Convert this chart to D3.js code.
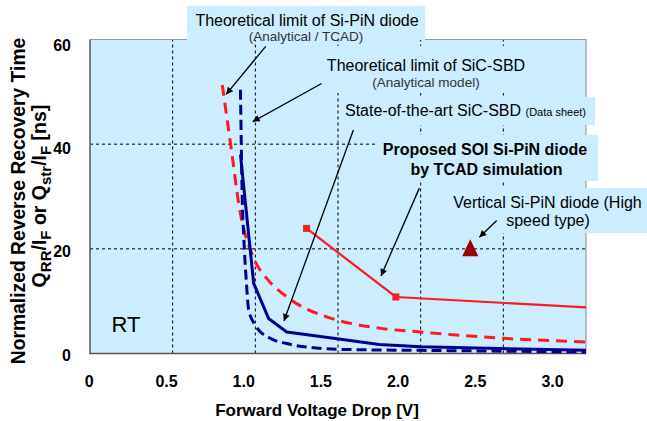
<!DOCTYPE html>
<html>
<head>
<meta charset="utf-8">
<script src="https://cdn.jsdelivr.net/npm/d3@7"></script>
<style>
  body { margin: 0; background: #fff; }
  svg { display: block; font-family: Arial, 'Liberation Sans', sans-serif; }
</style>
</head>
<body>
<svg width="647" height="421"></svg>
<script>
// Theoretical limit of Si-PiN diode (red dashed)
var siPinV = [0.80, 0.86, 0.90, 0.93, 0.97, 1.00, 1.07, 1.20, 1.45, 1.60, 1.76, 2.00, 2.50, 3.00]
var siPinT = [51.3, 37.8, 28.5, 23.8, 19.8, 17.5, 14.3, 10.6, 6.8, 5.6, 4.8, 4.1, 2.9, 2.2]

// Theoretical limit of SiC-SBD (blue dashed)
var sbdLimV = [0.91, 0.915, 0.92, 0.93, 0.945, 0.96, 1.00, 1.09, 1.19, 1.39, 1.50, 2.00, 2.50, 3.00]
var sbdLimT = [50.4, 40, 30.6, 22.3, 14, 8.3, 5.4, 2.9, 1.9, 1.0, 0.8, 0.6, 0.45, 0.3]

// State-of-the-art SiC-SBD (blue solid)
var sbdV = [0.91, 0.99, 1.08, 1.19, 1.45, 1.75, 2.00, 3.00]
var sbdT = [38, 13.4, 6.7, 4.1, 3.0, 1.7, 1.3, 0.6]

// Proposed SOI Si-PiN diode (red solid, markers on simulated points)
var soiV = [1.31, 1.85, 3.00]
var soiT = [23.9, 10.8, 8.8]
var soiMarked = [true, true, false]

// Vertical Si-PiN diode (high speed type)
var vertV = [2.3]
var vertT = [20]

var xTicks = [0, 0.5, 1.0, 1.5, 2.0, 2.5, 3.0]
var xTickLabels = ['0', '0.5', '1.0', '1.5', '2.0', '2.5', '3.0']
var yTicks = [0, 20, 40, 60]

var svg = d3.select('svg')

// plot area
var x = d3.scaleLinear().domain([0, 3]).range([90, 586])
var y = d3.scaleLinear().domain([0, 60]).range([353.5, 39.5])
// tick labels in the original sit on their own slightly narrower spacing
var xLab = d3.scaleLinear().domain([0, 3]).range([89.3, 552.5])
var yLab = d3.scaleLinear().domain([0, 60]).range([355, 45])

var bg = '#ccecff'

svg.append('rect')
  .attr('x', x(0)).attr('y', y(60))
  .attr('width', x(3) - x(0)).attr('height', y(0) - y(60))
  .attr('fill', bg)

// grid
svg.append('g').selectAll('line')
  .data([0.5, 1.0, 1.5, 2.0, 2.5])
  .enter().append('line')
  .attr('x1', d => x(d)).attr('x2', d => x(d))
  .attr('y1', y(0)).attr('y2', y(60))
  .attr('stroke', '#000').attr('stroke-width', 1)
  .attr('stroke-dasharray', '3,3')

svg.append('g').selectAll('line')
  .data([20, 40])
  .enter().append('line')
  .attr('x1', x(0)).attr('x2', x(3))
  .attr('y1', d => y(d)).attr('y2', d => y(d))
  .attr('stroke', '#000').attr('stroke-width', 1)
  .attr('stroke-dasharray', '3,3')

// frame
svg.append('path')
  .attr('d', 'M' + x(0) + ',' + y(60) + 'H' + x(3) + 'V' + y(0))
  .attr('fill', 'none').attr('stroke', '#999').attr('stroke-width', 1.2)
svg.append('path')
  .attr('d', 'M' + x(0) + ',' + y(60) + 'V' + y(0) + 'H' + x(3))
  .attr('fill', 'none').attr('stroke', '#555').attr('stroke-width', 1.5)

// label boxes (opaque, cover grid and frame)
var boxes = [
  [187, 6, 425, 40],
  [322, 46, 532, 93],
  [340, 97, 595, 125],
  [375, 135, 598, 181],
  [446, 188, 647, 233]
]
svg.append('g').selectAll('rect')
  .data(boxes)
  .enter().append('rect')
  .attr('x', d => d[0]).attr('y', d => d[1])
  .attr('width', d => d[2] - d[0]).attr('height', d => d[3] - d[1])
  .attr('fill', bg)

// series
function pts(xs, ys) { return xs.map((v, i) => [v, ys[i]]) }
var smooth = d3.line().x(d => x(d[0])).y(d => y(d[1])).curve(d3.curveMonotoneX)
var straight = d3.line().x(d => x(d[0])).y(d => y(d[1]))

svg.append('path')
  .attr('d', smooth(pts(siPinV, siPinT)))
  .attr('fill', 'none').attr('stroke', '#ff1a1a').attr('stroke-width', 3)
  .attr('stroke-dasharray', '11,7')

svg.append('path')
  .attr('d', smooth(pts(sbdLimV, sbdLimT)))
  .attr('fill', 'none').attr('stroke', '#000090').attr('stroke-width', 3)
  .attr('stroke-dasharray', '10,5')

svg.append('path')
  .attr('d', straight(pts(sbdV, sbdT)))
  .attr('fill', 'none').attr('stroke', '#000090').attr('stroke-width', 3)
  .attr('stroke-linejoin', 'round')

svg.append('path')
  .attr('d', straight(pts(soiV, soiT)))
  .attr('fill', 'none').attr('stroke', '#ff1a1a').attr('stroke-width', 2.2)

svg.append('g').selectAll('rect')
  .data(pts(soiV, soiT).filter((d, i) => soiMarked[i]))
  .enter().append('rect')
  .attr('x', d => x(d[0]) - 3.5).attr('y', d => y(d[1]) - 3.5)
  .attr('width', 7).attr('height', 7)
  .attr('fill', '#ff1a1a')

svg.append('g').selectAll('path')
  .data(pts(vertV, vertT))
  .enter().append('path')
  .attr('d', d => {
    var cx = x(d[0]), cy = y(d[1])
    return 'M' + cx + ',' + (cy - 9.5) + 'L' + (cx + 8) + ',' + (cy + 7.3) + 'L' + (cx - 8) + ',' + (cy + 7.3) + 'Z'
  })
  .attr('fill', '#990000')

// arrows: [fromV, fromT, toV, toT]
var arrows = [
  [1.063, 58.7, 0.823, 49.5],
  [1.401, 51.6, 0.984, 44.3],
  [1.593, 42.7, 1.173, 6.2],
  [1.992, 31.6, 1.760, 14.8],
  [2.460, 25.4, 2.355, 22.2]
]
svg.append('defs').append('marker')
  .attr('id', 'ah')
  .attr('viewBox', '0 0 10 10')
  .attr('refX', 10).attr('refY', 5)
  .attr('markerWidth', 9).attr('markerHeight', 7)
  .attr('markerUnits', 'userSpaceOnUse')
  .attr('orient', 'auto')
  .append('path').attr('d', 'M0,0L10,5L0,10Z').attr('fill', '#000')

svg.append('g').selectAll('line')
  .data(arrows)
  .enter().append('line')
  .attr('x1', d => x(d[0])).attr('y1', d => y(d[1]))
  .attr('x2', d => x(d[2])).attr('y2', d => y(d[3]))
  .attr('stroke', '#000').attr('stroke-width', 1.3)
  .attr('marker-end', 'url(#ah)')

// annotation texts
function label(px, py, txt, size, weight, anchor, color) {
  return svg.append('text')
    .attr('x', px).attr('y', py)
    .attr('font-size', size).attr('font-weight', weight || 'normal')
    .attr('text-anchor', anchor || 'middle')
    .attr('fill', color || '#000')
    .text(txt)
}
label(307, 26, 'Theoretical limit of Si-PiN diode', 16)
label(306, 41, '(Analytical / TCAD)', 13.5, 'normal', 'middle', '#333')
label(426, 70.5, 'Theoretical limit of SiC-SBD', 16)
label(426, 87, '(Analytical model)', 13.5, 'normal', 'middle', '#333')
var st = label(345, 116, 'State-of-the-art SiC-SBD ', 16, 'normal', 'start')
st.append('tspan').attr('font-size', 11).text('(Data sheet)')
label(485, 154.5, 'Proposed SOI Si-PiN diode', 16, 'bold')
label(486.5, 174.5, 'by TCAD simulation', 16, 'bold')
label(547.5, 207.5, 'Vertical Si-PiN diode (High', 16)
label(548, 225.5, 'speed type)', 16)
label(111.5, 332, 'RT', 22, 'normal', 'start')

// axes tick labels
svg.append('g').selectAll('text')
  .data(xTicks)
  .enter().append('text')
  .attr('x', d => xLab(d)).attr('y', 387)
  .attr('text-anchor', 'middle')
  .attr('font-size', 16).attr('font-weight', 'bold')
  .text((d, i) => xTickLabels[i])

svg.append('g').selectAll('text')
  .data(yTicks)
  .enter().append('text')
  .attr('x', 71).attr('y', d => yLab(d) + 5.7)
  .attr('text-anchor', 'end')
  .attr('font-size', 16).attr('font-weight', 'bold')
  .text(d => d)

// axis titles
label(317, 416, 'Forward Voltage Drop [V]', 17, 'bold')

svg.append('text')
  .attr('transform', 'translate(25,201) rotate(-90)')
  .attr('text-anchor', 'middle')
  .attr('font-size', 19.3).attr('font-weight', 'bold')
  .text('Normalized Reverse Recovery Time')

var yt = svg.append('text')
  .attr('transform', 'translate(46,196) rotate(-90)')
  .attr('text-anchor', 'middle')
  .attr('font-size', 19.5).attr('font-weight', 'bold')
var parts = [['Q', 0], ['RR', 1], ['/I', 0], ['F', 1], [' or Q', 0], ['str', 1], ['/I', 0], ['F', 1], [' [ns]', 0]]
var prevSub = 0
parts.forEach(p => {
  var t = yt.append('tspan').text(p[0])
  if (p[1]) t.attr('font-size', 15)
  if (p[1] !== prevSub) t.attr('dy', p[1] ? 4.5 : -4.5)
  prevSub = p[1]
})
</script>
</body>
</html>
